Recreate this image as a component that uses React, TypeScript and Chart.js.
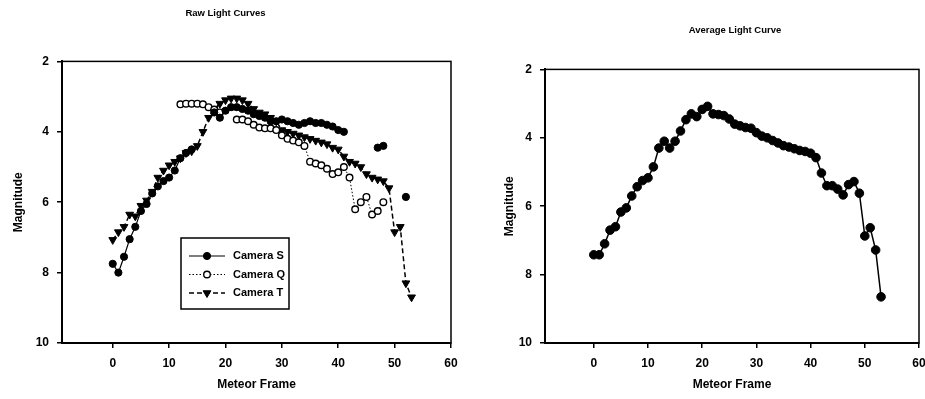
import React, { useEffect, useRef } from 'react';
import { Chart, registerables } from 'chart.js';

Chart.register(...registerables);

// ---------- data ----------
const xTickValues = [0, 10, 20, 30, 40, 50, 60];
const yTickValues = [2, 4, 6, 8, 10];

const camSFrames = [0, 1, 2, 3, 4, 5, 6, 7, 8, 9, 10, 11, 12, 13, 14, 15, 18, 19, 20, 21, 22, 23, 24, 25, 26, 27, 28, 29, 30, 31, 32, 33, 34, 35, 36, 37, 38, 39, 40, 41, 42, 47, 48, 49, 52];
const camSMag = [7.75, 8.0, 7.55, 7.05, 6.7, 6.25, 6.05, 5.75, 5.55, 5.4, 5.3, 5.1, 4.75, 4.6, 4.5, null, 3.45, 3.6, 3.4, 3.3, 3.3, 3.35, 3.4, 3.5, 3.55, 3.6, 3.7, 3.7, 3.65, 3.7, 3.75, 3.8, 3.75, 3.7, 3.75, 3.75, 3.8, 3.85, 3.95, 4.0, null, 4.45, 4.4, null, 5.85];

const camQFrames = [12, 13, 14, 15, 16, 17, 18, 19, 20, 22, 23, 24, 25, 26, 27, 28, 29, 30, 31, 32, 33, 34, 35, 36, 37, 38, 39, 40, 41, 42, 43, 44, 45, 46, 47, 48];
const camQMag = [3.22, 3.2, 3.2, 3.2, 3.22, 3.3, 3.37, 3.45, null, 3.65, 3.65, 3.7, 3.8, 3.88, 3.9, 3.9, 3.95, 4.1, 4.2, 4.25, 4.3, 4.4, 4.85, 4.9, 4.95, 5.05, 5.2, 5.15, 5.0, 5.3, 6.2, 6.0, 5.85, 6.35, 6.25, 6.0];

const camTFrames = [0, 1, 2, 3, 4, 5, 6, 7, 8, 9, 10, 11, 12, 13, 14, 15, 16, 17, 18, 19, 20, 21, 22, 23, 24, 25, 26, 27, 28, 29, 30, 31, 32, 33, 34, 35, 36, 37, 38, 39, 40, 41, 42, 43, 44, 45, 46, 47, 48, 49, 50, 51, 52, 53];
const camTMag = [7.07, 6.85, 6.7, 6.35, 6.4, 6.1, 5.95, 5.7, 5.3, 5.1, 4.95, 4.85, 4.75, 4.6, 4.55, 4.4, 4.0, 3.6, 3.35, 3.2, 3.1, 3.05, 3.05, 3.1, 3.2, 3.35, 3.45, 3.5, 3.6, 3.7, 3.95, 4.0, 4.05, 4.1, 4.15, 4.2, 4.25, 4.3, 4.35, 4.45, 4.5, 4.7, 4.85, 4.9, 5.0, 5.2, 5.3, 5.35, 5.4, 5.6, 6.85, 6.7, 8.3, 8.7];

const avgFrames = [0, 1, 2, 3, 4, 5, 6, 7, 8, 9, 10, 11, 12, 13, 14, 15, 16, 17, 18, 19, 20, 21, 22, 23, 24, 25, 26, 27, 28, 29, 30, 31, 32, 33, 34, 35, 36, 37, 38, 39, 40, 41, 42, 43, 44, 45, 46, 47, 48, 49, 50, 51, 52, 53];
const avgMag = [7.42, 7.42, 7.1, 6.7, 6.6, 6.17, 6.05, 5.7, 5.43, 5.25, 5.17, 4.85, 4.3, 4.1, 4.3, 4.1, 3.8, 3.47, 3.3, 3.38, 3.17, 3.08, 3.3, 3.32, 3.35, 3.45, 3.6, 3.65, 3.7, 3.72, 3.85, 3.95, 4.0, 4.08, 4.15, 4.23, 4.27, 4.32, 4.37, 4.4, 4.45, 4.58, 5.03, 5.4, 5.4, 5.5, 5.67, 5.37, 5.28, 5.62, 6.87, 6.63, 7.28, 8.65];

const seriesLabels = ['Camera S', 'Camera Q', 'Camera T'];
const leftTitle = 'Raw Light Curves';
const rightTitle = 'Average Light Curve';
const xTitle = 'Meteor Frame';
const yTitle = 'Magnitude';

// ---------- styling ----------
const FAMILY = "'Liberation Sans', Arial, sans-serif";
const H = 399;

const toPoints = (xs: number[], ys: (number | null)[]) => xs.map((x, i) => ({ x, y: ys[i] }));

function drawMarker(ctx: CanvasRenderingContext2D, style: string, x: number, y: number, r: number, rot: number, fill: string, stroke: string, bw: number) {
  ctx.save();
  ctx.beginPath();
  if (style === 'triangle') {
    let rad = (rot * Math.PI) / 180;
    ctx.moveTo(x + Math.sin(rad) * r, y - Math.cos(rad) * r);
    rad += (2 * Math.PI) / 3;
    ctx.lineTo(x + Math.sin(rad) * r, y - Math.cos(rad) * r);
    rad += (2 * Math.PI) / 3;
    ctx.lineTo(x + Math.sin(rad) * r, y - Math.cos(rad) * r);
    ctx.closePath();
  } else {
    ctx.arc(x, y, r, 0, Math.PI * 2);
  }
  ctx.fillStyle = fill;
  ctx.fill();
  ctx.lineWidth = bw;
  ctx.strokeStyle = stroke;
  ctx.stroke();
  ctx.restore();
}

const plotBoxPlugin = {
  id: 'plotBox',
  afterDraw(chart: any) {
    const { ctx, chartArea: a } = chart;
    ctx.save();
    ctx.strokeStyle = '#000';
    ctx.lineWidth = 1.5;
    ctx.strokeRect(a.left, a.top, a.right - a.left, a.bottom - a.top);
    ctx.restore();
  },
};

const insetLegendPlugin = {
  id: 'insetLegend',
  afterDraw(chart: any, _args: any, opts: any) {
    if (!opts || !opts.display) return;
    const { ctx } = chart;
    const { x, y, w, h, firstRow, rowH } = opts;
    ctx.save();
    ctx.fillStyle = '#fff';
    ctx.fillRect(x, y, w, h);
    ctx.strokeStyle = '#000';
    ctx.lineWidth = 1.5;
    ctx.strokeRect(x, y, w, h);
    chart.data.datasets.forEach((ds: any, i: number) => {
      const cy = y + firstRow + i * rowH;
      ctx.save();
      ctx.strokeStyle = '#000';
      ctx.setLineDash(ds.borderDash || []);
      ctx.lineWidth = ds.borderWidth;
      ctx.beginPath();
      ctx.moveTo(x + 8, cy);
      ctx.lineTo(x + 44, cy);
      ctx.stroke();
      ctx.restore();
      drawMarker(ctx, ds.pointStyle, x + 26, cy, ds.pointRadius, ds.pointRotation || 0, ds.pointBackgroundColor, ds.pointBorderColor, ds.pointBorderWidth);
      ctx.fillStyle = '#000';
      ctx.font = `bold 11px ${FAMILY}`;
      ctx.textBaseline = 'middle';
      ctx.textAlign = 'left';
      ctx.fillText(ds.label, x + 52, cy);
    });
    ctx.restore();
  },
};

const tickFont = { family: FAMILY, size: 12, weight: 'bold' as const };
const axisTitleFont = { family: FAMILY, size: 12, weight: 'bold' as const };

function xScale(height: number) {
  return {
    type: 'linear' as const,
    min: -9,
    max: 60,
    afterBuildTicks: (s: any) => {
      s.ticks = xTickValues.map((v) => ({ value: v }));
    },
    afterFit: (s: any) => {
      s.height = height;
      s.paddingLeft = 0;
      s.paddingRight = 0;
    },
    grid: { drawOnChartArea: false, drawTicks: true, tickLength: 5, color: '#000', lineWidth: 1.5 },
    border: { color: '#000', width: 2 },
    ticks: { color: '#000', font: tickFont, padding: 8, maxRotation: 0 },
    title: { display: true, text: xTitle, color: '#000', font: axisTitleFont, padding: { top: 0, bottom: 7 } },
  };
}

function yScale(width: number, titleOffset: number) {
  return {
    type: 'linear' as const,
    reverse: true,
    min: 2,
    max: 10,
    afterBuildTicks: (s: any) => {
      s.ticks = yTickValues.map((v) => ({ value: v }));
    },
    afterFit: (s: any) => {
      s.width = width;
      s.paddingTop = 0;
      s.paddingBottom = 0;
    },
    grid: { drawOnChartArea: false, drawTicks: true, tickLength: 5, color: '#000', lineWidth: 1.5 },
    border: { color: '#000', width: 2 },
    ticks: { color: '#000', font: tickFont, padding: 8 },
    title: { display: true, text: yTitle, color: '#000', font: axisTitleFont, padding: { top: titleOffset, bottom: 0 } },
  };
}

function leftConfig(): any {
  return {
    type: 'scatter',
    data: {
      datasets: [
        {
          label: seriesLabels[0],
          data: toPoints(camSFrames, camSMag),
          showLine: true,
          spanGaps: false,
          borderColor: '#000',
          borderWidth: 1.2,
          pointStyle: 'circle',
          pointRadius: 3.6,
          pointBackgroundColor: '#000',
          pointBorderColor: '#000',
          pointBorderWidth: 1,
        },
        {
          label: seriesLabels[1],
          data: toPoints(camQFrames, camQMag),
          showLine: true,
          spanGaps: false,
          borderColor: '#000',
          borderWidth: 1,
          borderDash: [1.5, 2],
          pointStyle: 'circle',
          pointRadius: 3.3,
          pointBackgroundColor: '#fff',
          pointBorderColor: '#000',
          pointBorderWidth: 1.4,
        },
        {
          label: seriesLabels[2],
          data: toPoints(camTFrames, camTMag),
          showLine: true,
          spanGaps: false,
          borderColor: '#000',
          borderWidth: 1.5,
          borderDash: [5, 3],
          pointStyle: 'triangle',
          pointRotation: 180,
          pointRadius: 4.5,
          pointBackgroundColor: '#000',
          pointBorderColor: '#000',
          pointBorderWidth: 1,
        },
      ],
    },
    options: {
      responsive: false,
      animation: false,
      events: [],
      layout: { padding: { left: 0, right: 14, top: 0, bottom: 0 } },
      plugins: {
        legend: { display: false },
        tooltip: { enabled: false },
        title: {
          display: true,
          text: leftTitle,
          color: '#000',
          font: { family: FAMILY, size: 9.5, weight: 'bold' },
          padding: { top: 8, bottom: 42 },
        },
        insetLegend: { display: true, x: 181, y: 238, w: 108, h: 71, firstRow: 18, rowH: 18.5 },
      },
      scales: {
        x: xScale(56),
        y: yScale(62, 11),
      },
    },
    plugins: [plotBoxPlugin, insetLegendPlugin],
  };
}

function rightConfig(): any {
  return {
    type: 'scatter',
    data: {
      datasets: [
        {
          label: rightTitle,
          data: toPoints(avgFrames, avgMag),
          showLine: true,
          borderColor: '#000',
          borderWidth: 1.5,
          pointStyle: 'circle',
          pointRadius: 4.3,
          pointBackgroundColor: '#000',
          pointBorderColor: '#000',
          pointBorderWidth: 1,
        },
      ],
    },
    options: {
      responsive: false,
      animation: false,
      events: [],
      layout: { padding: { left: 0, right: -80, top: 0, bottom: 0 } },
      plugins: {
        legend: { display: false },
        tooltip: { enabled: false },
        title: {
          display: true,
          text: rightTitle,
          color: '#000',
          font: { family: FAMILY, size: 9.5, weight: 'bold' },
          padding: { top: 25, bottom: 33 },
        },
      },
      scales: {
        x: xScale(56),
        y: yScale(80, 37),
        yPad: {
          type: 'linear',
          position: 'right',
          min: 2,
          max: 10,
          display: true,
          grid: { display: false, drawTicks: false },
          border: { display: false },
          ticks: { display: false },
          afterFit: (s: any) => {
            s.width = 86;
            s.paddingTop = 0;
            s.paddingBottom = 0;
          },
        },
      },
    },
    plugins: [plotBoxPlugin],
  };
}

function ChartBox({ left, width, makeConfig }: { left: number; width: number; makeConfig: () => any }) {
  const ref = useRef<HTMLCanvasElement | null>(null);
  useEffect(() => {
    if (!ref.current) return;
    const chart = new Chart(ref.current, makeConfig());
    return () => chart.destroy();
  }, []);
  return (
    <div style={{ position: 'absolute', left, top: 0, width, height: H }}>
      <canvas ref={ref} width={width} height={H} style={{ display: 'block', width, height: H }} />
    </div>
  );
}

export default function App() {
  return (
    <div style={{ position: 'fixed', left: 0, top: 0, width: 925, height: H, background: '#fff', overflow: 'hidden' }}>
      <ChartBox left={0} width={465} makeConfig={leftConfig} />
      <ChartBox left={465} width={460} makeConfig={rightConfig} />
    </div>
  );
}
